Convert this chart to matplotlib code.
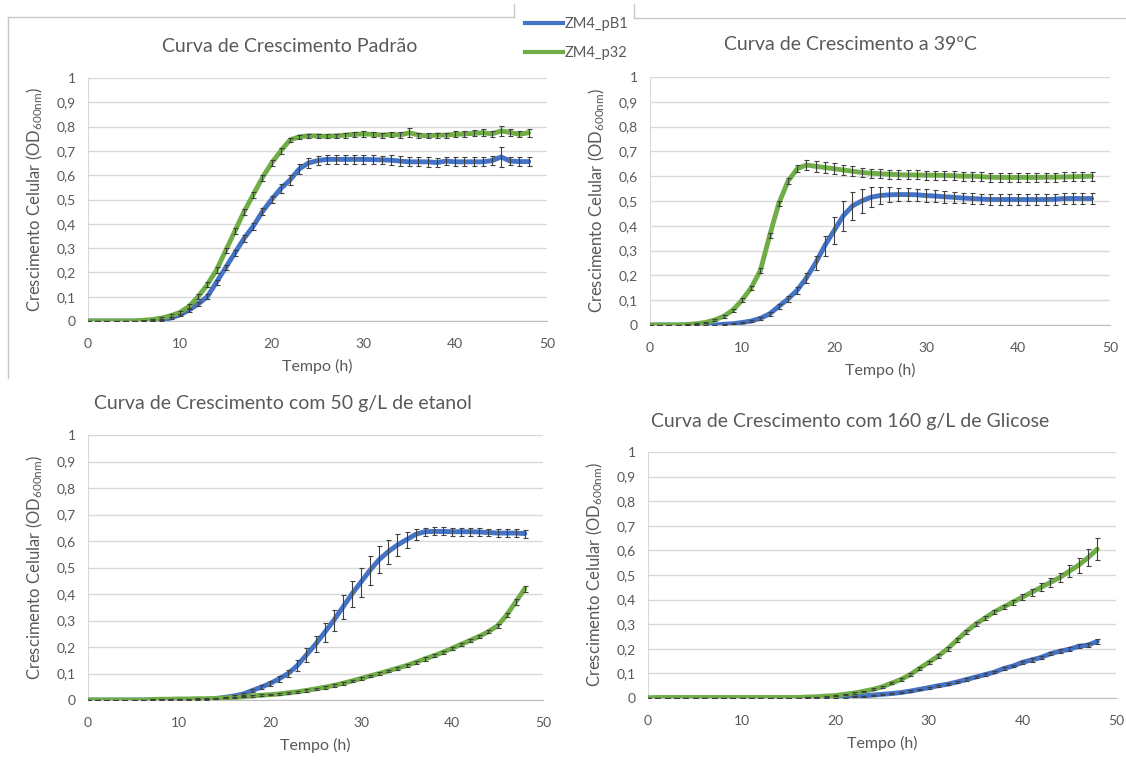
import matplotlib
matplotlib.use("Agg")
import matplotlib.pyplot as plt
from matplotlib.lines import Line2D
import numpy as np

plt.rcParams['font.family'] = ['Lato', 'DejaVu Sans']
plt.rcParams['mathtext.default'] = 'regular'

W, H = 1126, 769

hours = np.arange(0, 49)  # one reading per hour

# Curva de Crescimento Padrão
pad_pb1 = [0, 0, 0, 0, 0, 0, 0, 0, 0.004, 0.012, 0.025, 0.045, 0.07, 0.10, 0.16, 0.22, 0.28,
           0.34, 0.39, 0.45, 0.50, 0.545, 0.58, 0.625, 0.65, 0.66, 0.665, 0.665, 0.665, 0.665,
           0.665, 0.664, 0.663, 0.662, 0.658, 0.655, 0.655, 0.655, 0.652, 0.658, 0.655, 0.655,
           0.655, 0.655, 0.66, 0.675, 0.658, 0.656, 0.656]
pad_p32 = [0, 0, 0, 0, 0, 0, 0.003, 0.006, 0.012, 0.022, 0.035, 0.06, 0.10, 0.15, 0.21, 0.29,
           0.37, 0.45, 0.52, 0.59, 0.65, 0.70, 0.745, 0.758, 0.762, 0.762, 0.76, 0.762, 0.765,
           0.768, 0.77, 0.768, 0.765, 0.768, 0.765, 0.775, 0.765, 0.762, 0.765, 0.765, 0.768,
           0.77, 0.772, 0.775, 0.77, 0.782, 0.776, 0.768, 0.775]
pad_pb1_err = [0, 0, 0, 0, 0, 0, 0, 0, 0.002, 0.003, 0.005, 0.006, 0.008, 0.01, 0.01, 0.012,
               0.012, 0.014, 0.015, 0.015, 0.016, 0.018, 0.02, 0.02, 0.02, 0.02, 0.018, 0.018,
               0.018, 0.018, 0.018, 0.018, 0.018, 0.02, 0.02, 0.018, 0.018, 0.02, 0.02, 0.018,
               0.018, 0.018, 0.018, 0.018, 0.018, 0.04, 0.018, 0.018, 0.018]
pad_p32_err = [0, 0, 0, 0, 0, 0, 0.002, 0.003, 0.004, 0.005, 0.006, 0.008, 0.01, 0.012, 0.012,
               0.012, 0.012, 0.012, 0.012, 0.012, 0.012, 0.012, 0.01, 0.008, 0.008, 0.008,
               0.008, 0.008, 0.01, 0.01, 0.012, 0.01, 0.01, 0.01, 0.012, 0.018, 0.01, 0.01, 0.01,
               0.01, 0.012, 0.012, 0.012, 0.014, 0.012, 0.02, 0.014, 0.012, 0.016]

# Curva de Crescimento a 39oC
t39_pb1 = [0, 0, 0, 0, 0, 0, 0, 0, 0.003, 0.005, 0.01, 0.016, 0.027, 0.045, 0.075, 0.105, 0.14,
           0.19, 0.25, 0.32, 0.38, 0.44, 0.48, 0.50, 0.515, 0.522, 0.525, 0.526, 0.526, 0.525,
           0.522, 0.52, 0.517, 0.515, 0.512, 0.51, 0.508, 0.506, 0.506, 0.506, 0.506, 0.506,
           0.506, 0.506, 0.507, 0.51, 0.51, 0.51, 0.51]
t39_p32 = [0, 0, 0, 0, 0.002, 0.005, 0.01, 0.02, 0.035, 0.06, 0.10, 0.15, 0.22, 0.36, 0.49, 0.58,
           0.63, 0.645, 0.64, 0.635, 0.63, 0.625, 0.62, 0.615, 0.612, 0.61, 0.608, 0.606, 0.605,
           0.605, 0.604, 0.604, 0.603, 0.602, 0.60, 0.60, 0.598, 0.596, 0.595, 0.595, 0.595,
           0.595, 0.595, 0.596, 0.596, 0.597, 0.598, 0.599, 0.60]
t39_pb1_err = [0, 0, 0, 0, 0, 0, 0, 0, 0.001, 0.002, 0.003, 0.004, 0.006, 0.008, 0.01, 0.012,
               0.015, 0.02, 0.03, 0.04, 0.055, 0.06, 0.055, 0.05, 0.04, 0.035, 0.03, 0.028,
               0.026, 0.025, 0.025, 0.024, 0.024, 0.023, 0.022, 0.022, 0.022, 0.022, 0.022,
               0.022, 0.022, 0.022, 0.022, 0.022, 0.022, 0.022, 0.022, 0.022, 0.022]
t39_p32_err = [0, 0, 0, 0, 0.001, 0.002, 0.003, 0.004, 0.005, 0.006, 0.008, 0.008, 0.01, 0.01,
               0.01, 0.012, 0.015, 0.02, 0.022, 0.022, 0.022, 0.02, 0.02, 0.02, 0.018, 0.018,
               0.018, 0.018, 0.018, 0.018, 0.018, 0.018, 0.018, 0.018, 0.018, 0.018, 0.018,
               0.018, 0.018, 0.018, 0.018, 0.018, 0.018, 0.018, 0.018, 0.018, 0.018, 0.018, 0.018]

# Curva de Crescimento com 50 g/L de etanol
eta_pb1 = [0, 0, 0, 0, 0, 0, 0, 0, 0, 0, 0, 0, 0, 0.002, 0.005, 0.01, 0.015, 0.022, 0.035, 0.048,
           0.062, 0.08, 0.10, 0.13, 0.17, 0.21, 0.255, 0.30, 0.35, 0.40, 0.445, 0.49, 0.53, 0.56,
           0.585, 0.605, 0.625, 0.635, 0.636, 0.636, 0.635, 0.635, 0.635, 0.634, 0.632, 0.63,
           0.63, 0.63, 0.628]
eta_p32 = [0, 0, 0, 0, 0, 0, 0, 0.002, 0.003, 0.003, 0.004, 0.004, 0.005, 0.005, 0.006, 0.008,
           0.01, 0.012, 0.015, 0.018, 0.02, 0.023, 0.027, 0.031, 0.036, 0.042, 0.048, 0.055,
           0.063, 0.072, 0.081, 0.091, 0.10, 0.11, 0.12, 0.13, 0.142, 0.155, 0.167, 0.18, 0.195,
           0.21, 0.225, 0.24, 0.258, 0.28, 0.32, 0.37, 0.42]
eta_pb1_err = [0, 0, 0, 0, 0, 0, 0, 0, 0, 0, 0, 0, 0, 0.001, 0.002, 0.003, 0.004, 0.005, 0.006,
               0.008, 0.01, 0.012, 0.015, 0.02, 0.025, 0.03, 0.035, 0.04, 0.045, 0.05, 0.055,
               0.055, 0.05, 0.045, 0.04, 0.03, 0.02, 0.015, 0.015, 0.015, 0.015, 0.015, 0.015,
               0.015, 0.015, 0.015, 0.015, 0.015, 0.015]
eta_p32_err = [0, 0, 0, 0, 0, 0, 0, 0.001, 0.001, 0.001, 0.001, 0.001, 0.001, 0.001, 0.002,
               0.002, 0.002, 0.002, 0.003, 0.003, 0.003, 0.003, 0.004, 0.004, 0.004, 0.005,
               0.005, 0.005, 0.005, 0.005, 0.005, 0.005, 0.005, 0.005, 0.005, 0.005, 0.006,
               0.006, 0.006, 0.006, 0.006, 0.006, 0.006, 0.006, 0.007, 0.008, 0.008, 0.01, 0.012]

# Curva de Crescimento com 160 g/L de Glicose
gli_pb1 = [0, 0, 0, 0, 0, 0, 0, 0, 0, 0, 0, 0, 0, 0, 0, 0, 0, 0, 0, 0, 0, 0, 0.005, 0.008,
           0.012, 0.015, 0.018, 0.022, 0.028, 0.035, 0.042, 0.05, 0.056, 0.065, 0.075, 0.085,
           0.095, 0.105, 0.12, 0.13, 0.145, 0.155, 0.165, 0.18, 0.19, 0.198, 0.21, 0.215, 0.23]
gli_p32 = [0, 0.002, 0.002, 0.002, 0.002, 0.002, 0.002, 0.002, 0.002, 0.002, 0.002, 0.002, 0.002,
           0.002, 0.002, 0.002, 0.002, 0.004, 0.005, 0.008, 0.01, 0.015, 0.02, 0.027, 0.035,
           0.045, 0.06, 0.075, 0.095, 0.12, 0.145, 0.17, 0.20, 0.235, 0.27, 0.30, 0.325, 0.35,
           0.37, 0.39, 0.41, 0.43, 0.45, 0.47, 0.49, 0.515, 0.54, 0.57, 0.605]
gli_pb1_err = [0, 0, 0, 0, 0, 0, 0, 0, 0, 0, 0, 0, 0, 0, 0, 0, 0, 0, 0, 0, 0, 0, 0.002, 0.002,
               0.002, 0.002, 0.003, 0.003, 0.003, 0.003, 0.004, 0.004, 0.004, 0.004, 0.005,
               0.005, 0.005, 0.005, 0.006, 0.006, 0.006, 0.007, 0.007, 0.007, 0.008, 0.008,
               0.008, 0.009, 0.01]
gli_p32_err = [0, 0, 0, 0, 0, 0, 0, 0, 0, 0, 0, 0, 0, 0, 0, 0, 0, 0.001, 0.001, 0.002, 0.002,
               0.002, 0.003, 0.003, 0.004, 0.004, 0.005, 0.005, 0.006, 0.006, 0.006, 0.007,
               0.007, 0.008, 0.008, 0.008, 0.008, 0.009, 0.01, 0.01, 0.012, 0.014, 0.016, 0.018,
               0.02, 0.025, 0.03, 0.035, 0.045]

titles = ["Curva de Crescimento Padrão", "Curva de Crescimento a 39ºC",
          "Curva de Crescimento com 50 g/L de etanol", "Curva de Crescimento com 160 g/L de Glicose"]
series_names = ["ZM4_pB1", "ZM4_p32"]
y_ticks = [0, 0.1, 0.2, 0.3, 0.4, 0.5, 0.6, 0.7, 0.8, 0.9, 1]
y_ticklabels = ["0", "0,1", "0,2", "0,3", "0,4", "0,5", "0,6", "0,7", "0,8", "0,9", "1"]
x_ticks = [0, 10, 20, 30, 40, 50]

panels = [
    (pad_pb1, pad_pb1_err, pad_p32, pad_p32_err),
    (t39_pb1, t39_pb1_err, t39_p32, t39_p32_err),
    (eta_pb1, eta_pb1_err, eta_p32, eta_p32_err),
    (gli_pb1, gli_pb1_err, gli_p32, gli_p32_err),
]

# plot areas in pixels: left, top, right, bottom
boxes = [(88, 78, 547, 321), (650, 77, 1110, 325), (88, 435, 543, 700), (648, 452, 1116, 698)]
title_pos = [(290, 46), (850, 45), (283, 403), (850, 421)]

blue = "#4472C4"
green = "#70AD47"
text_gray = "#595959"

fig = plt.figure(figsize=(W / 100, H / 100), dpi=100)

for i, (pb1, pb1_err, p32, p32_err) in enumerate(panels):
    l, t, r, b = boxes[i]
    ax = fig.add_axes([l / W, 1 - b / H, (r - l) / W, (b - t) / H])
    for vals, errs, col in [(pb1, pb1_err, blue), (p32, p32_err, green)]:
        ax.plot(hours, vals, color=col, lw=3.5, solid_capstyle='round', zorder=3)
        ax.errorbar(hours, vals, yerr=errs, fmt='none', ecolor='#404040',
                    elinewidth=0.8, capsize=1.8, capthick=0.8, zorder=4)
    ax.set_xlim(0, 50)
    ax.set_ylim(0, 1)
    ax.set_yticks(y_ticks)
    ax.set_yticklabels(y_ticklabels)
    ax.set_xticks(x_ticks)
    ax.grid(axis='y', color='#d9d9d9', lw=1)
    ax.set_axisbelow(True)
    for side in ['top', 'right']:
        ax.spines[side].set_visible(False)
    ax.spines['left'].set_color('#d9d9d9')
    ax.spines['bottom'].set_color('#bfbfbf')
    ax.tick_params(length=0, labelsize=10, colors=text_gray, pad=9)
    ax.tick_params(axis='x', pad=12)
    ax.set_ylabel("Crescimento Celular (OD$_{600nm}$)", fontsize=12, color=text_gray)
    ax.set_xlabel("Tempo (h)", fontsize=11.5, color=text_gray)
    ax.yaxis.set_label_coords(-43 / (r - l), 0.5)
    ax.xaxis.set_label_coords(0.5, -38 / (b - t))
    tx, ty = title_pos[i]
    fig.text(tx / W, 1 - ty / H, titles[i], ha='center', va='center', fontsize=14, color=text_gray)

# legend at the top centre of the figure
handles = [Line2D([0], [0], color=blue, lw=3), Line2D([0], [0], color=green, lw=3)]
leg = fig.legend(handles, series_names, loc='upper left', bbox_to_anchor=(512 / W, 1 - 4 / H),
                 frameon=False, fontsize=10.5, handlelength=2.6, handletextpad=0.1, labelspacing=1.0)
for txt in leg.get_texts():
    txt.set_color(text_gray)

# chart-area borders left over from the pasted charts
border = '#c8c8c8'
for xs, ys in [([8, 514], [17, 17]), ([8, 8], [17, 378]), ([514, 514], [4, 17]),
               ([634, 634], [4, 18]), ([634, 1126], [18, 18])]:
    fig.add_artist(Line2D([x / W for x in xs], [1 - y / H for y in ys], color=border, lw=1))

fig.savefig("out.png", dpi=100, facecolor='white')
